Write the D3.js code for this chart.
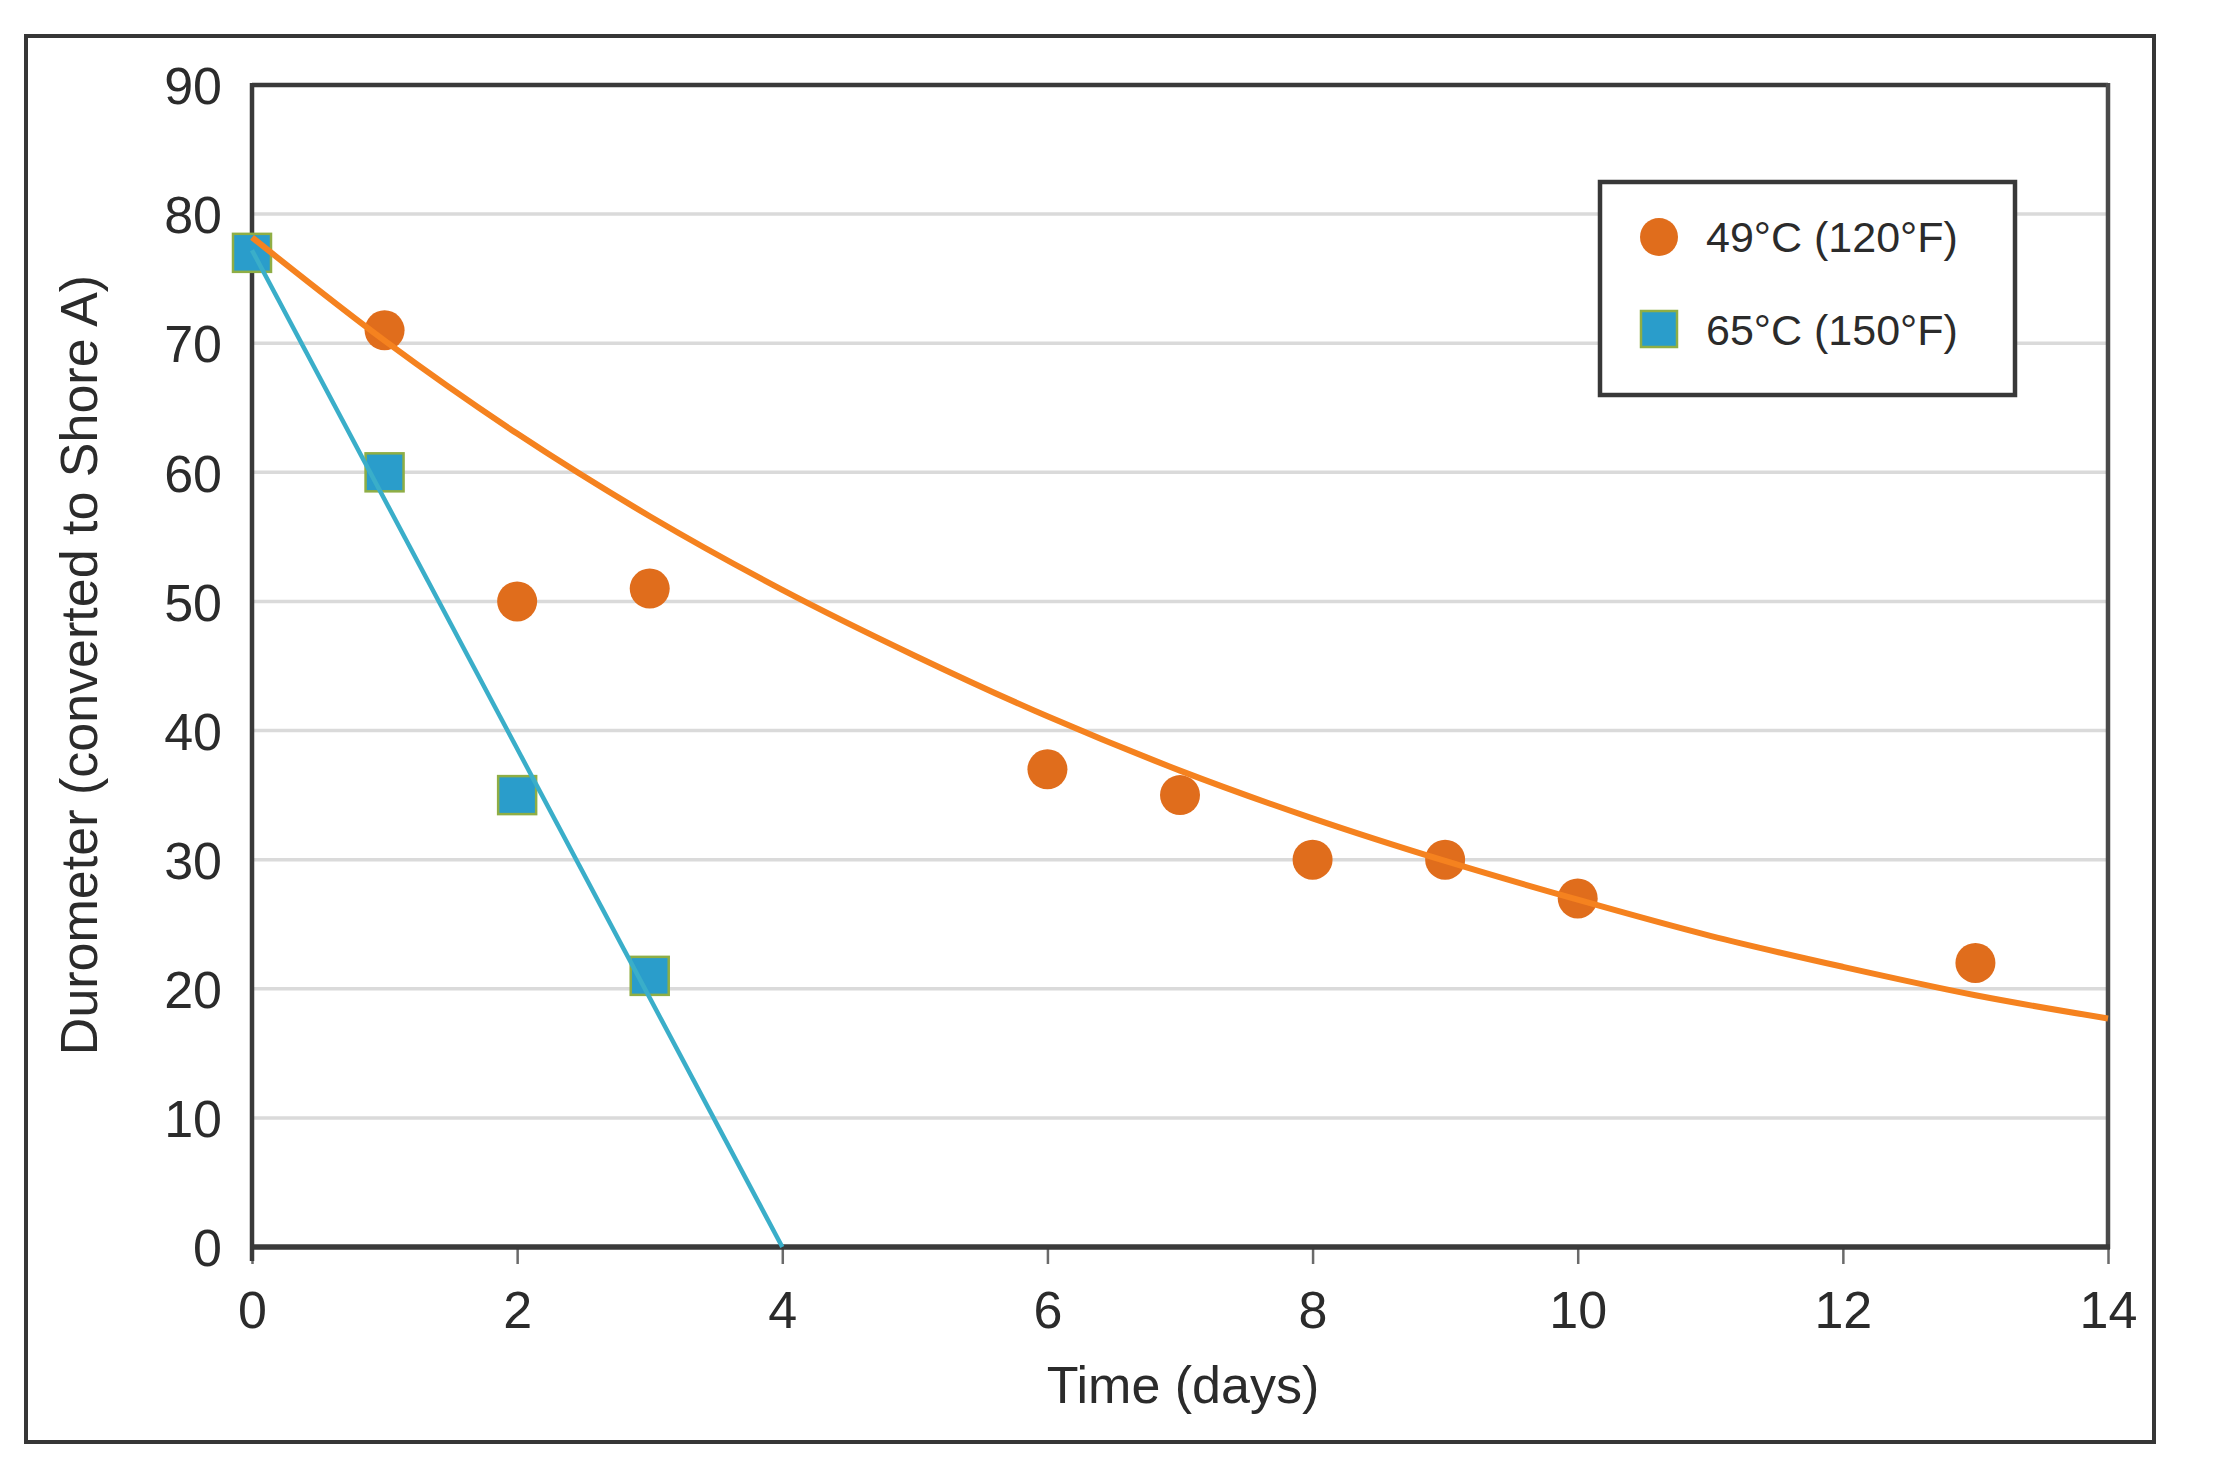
<!DOCTYPE html>
<html>
<head>
<meta charset="utf-8">
<script src="https://cdn.jsdelivr.net/npm/d3@7"></script>
<style>
  html, body { margin: 0; padding: 0; background: #ffffff; }
  svg { display: block; }
  text { font-family: "Liberation Sans", Arial, Helvetica, sans-serif; fill: #2b2b2b; }
</style>
</head>
<body>
<svg id="chart" width="2219" height="1473"></svg>
<script>
// ---- data ----
const seriesNames = ["49°C (120°F)", "65°C (150°F)"];
const days49 = [1, 2, 3, 6, 7, 8, 9, 10, 13];
const duro49 = [71, 50, 51, 37, 35, 30, 30, 27, 22];
const days65 = [0, 1, 2, 3];
const duro65 = [77, 60, 35, 21];
// trend lines
const trend49Days = [0, 1, 2, 3, 4, 5, 6, 7, 8, 9, 10, 11, 12, 13, 14];
const trend49Vals = [78.2, 70.2, 63.0, 56.6, 50.9, 45.8, 41.1, 36.9, 33.2, 29.9, 26.9, 24.1, 21.7, 19.5, 17.7];
const trend65Days = [0, 4];
const trend65Vals = [77.2, 0];
const xTicks = [0, 2, 4, 6, 8, 10, 12, 14];
const yTicks = [0, 10, 20, 30, 40, 50, 60, 70, 80, 90];
const xTitle = "Time (days)";
const yTitle = "Durometer (converted to Shore A)";

// ---- layout ----
const svg = d3.select("#chart");
const L = 252, R = 2108, T = 85, B = 1247;
const x = d3.scaleLinear().domain([0, 14]).range([L, R]);
const y = d3.scaleLinear().domain([0, 90]).range([B, T]);

const C_ORANGE_PT = "#e06d1c";
const C_ORANGE_LN = "#f5821f";
const C_BLUE_FILL = "#2a9dcb";
const C_BLUE_EDGE = "#8fae45";
const C_BLUE_LN = "#3aaec9";

// outer frame
svg.append("rect")
  .attr("x", 26).attr("y", 36).attr("width", 2154 - 26).attr("height", 1442 - 36)
  .attr("fill", "none").attr("stroke", "#363636").attr("stroke-width", 4);

// gridlines
svg.append("g").selectAll("line").data(yTicks.filter(d => d > 0 && d < 90)).join("line")
  .attr("x1", L).attr("x2", R)
  .attr("y1", d => y(d)).attr("y2", d => y(d))
  .attr("stroke", "#dadada").attr("stroke-width", 3.5);

// x axis with d3 axis
const xAxis = svg.append("g").attr("transform", `translate(0,${B})`)
  .call(d3.axisBottom(x).tickValues(xTicks).tickSize(17).tickSizeOuter(0).tickFormat(d3.format("d")));
xAxis.select(".domain").remove();
xAxis.selectAll(".tick line").attr("stroke", "#6a6a6a").attr("stroke-width", 2.5);
xAxis.selectAll(".tick text")
  .attr("y", 81).attr("dy", null)
  .style("font-size", "52px").style("font-family", "'Liberation Sans', Arial, sans-serif")
  .attr("fill", "#2b2b2b");

// y axis labels with d3 axis
const yAxis = svg.append("g").attr("transform", `translate(${L},0)`)
  .call(d3.axisLeft(y).tickValues(yTicks).tickSize(0).tickPadding(30).tickFormat(d3.format("d")));
yAxis.select(".domain").remove();
yAxis.selectAll(".tick text")
  .attr("dy", "0.36em")
  .style("font-size", "52px").style("font-family", "'Liberation Sans', Arial, sans-serif")
  .attr("fill", "#2b2b2b");

// plot frame
svg.append("line").attr("x1", L).attr("x2", R).attr("y1", T).attr("y2", T)
  .attr("stroke", "#3a3a3a").attr("stroke-width", 4.5);
svg.append("line").attr("x1", L).attr("x2", L).attr("y1", T - 2).attr("y2", B + 14)
  .attr("stroke", "#3a3a3a").attr("stroke-width", 4.5);
svg.append("line").attr("x1", R).attr("x2", R).attr("y1", T - 2).attr("y2", B + 2)
  .attr("stroke", "#4a4a4a").attr("stroke-width", 4.5);
svg.append("line").attr("x1", L - 2).attr("x2", R + 2).attr("y1", B).attr("y2", B)
  .attr("stroke", "#3a3a3a").attr("stroke-width", 5.5);

// markers: 65°C squares
const sq = 38;
svg.append("g").selectAll("rect").data(days65.map((d, i) => [d, duro65[i]])).join("rect")
  .attr("x", d => x(d[0]) - sq / 2).attr("y", d => y(d[1]) - sq / 2)
  .attr("width", sq).attr("height", sq)
  .attr("fill", C_BLUE_FILL).attr("stroke", C_BLUE_EDGE).attr("stroke-width", 2.5);

// markers: 49°C circles
svg.append("g").selectAll("circle").data(days49.map((d, i) => [d, duro49[i]])).join("circle")
  .attr("cx", d => x(d[0])).attr("cy", d => y(d[1])).attr("r", 20)
  .attr("fill", C_ORANGE_PT);

// trend lines
const line = d3.line().x(d => x(d[0])).y(d => y(d[1]));
svg.append("path")
  .datum(trend65Days.map((d, i) => [d, trend65Vals[i]]))
  .attr("d", line).attr("fill", "none").attr("stroke", C_BLUE_LN).attr("stroke-width", 4.5);
svg.append("path")
  .datum(trend49Days.map((d, i) => [d, trend49Vals[i]]))
  .attr("d", line.curve(d3.curveMonotoneX)).attr("fill", "none")
  .attr("stroke", C_ORANGE_LN).attr("stroke-width", 6);

// axis titles
svg.append("text").attr("x", 1183).attr("y", 1403).attr("text-anchor", "middle")
  .style("font-size", "52px").text(xTitle);
svg.append("text").attr("transform", "translate(97,665) rotate(-90)")
  .attr("text-anchor", "middle").style("font-size", "52px").text(yTitle);

// legend
const lg = svg.append("g");
lg.append("rect").attr("x", 1600).attr("y", 182).attr("width", 415).attr("height", 213)
  .attr("fill", "#ffffff").attr("stroke", "#383838").attr("stroke-width", 4.5);
lg.append("circle").attr("cx", 1659).attr("cy", 237).attr("r", 19).attr("fill", C_ORANGE_PT);
lg.append("rect").attr("x", 1659 - 18).attr("y", 329 - 18).attr("width", 36).attr("height", 36)
  .attr("fill", C_BLUE_FILL).attr("stroke", C_BLUE_EDGE).attr("stroke-width", 2.5);
lg.selectAll("text.lbl").data(seriesNames).join("text").attr("class", "lbl")
  .attr("x", 1706).attr("y", (d, i) => i === 0 ? 252 : 345)
  .style("font-size", "43px").text(d => d);
</script>
</body>
</html>
